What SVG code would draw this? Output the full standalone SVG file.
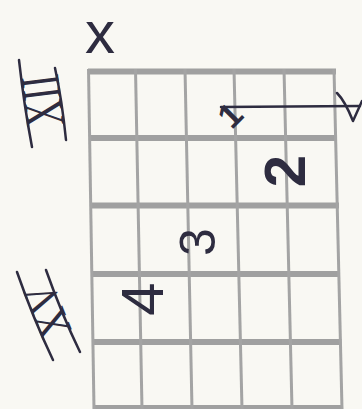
<svg xmlns="http://www.w3.org/2000/svg" width="362" height="409" viewBox="0 0 362 409">
<style>
.bg{fill:#f9f8f3}
.fret{stroke:#a0a0a0;stroke-width:6;stroke-linecap:butt}
.str{stroke:#a4a4a4;stroke-width:3}
.ink{fill:#2e2c40;font-family:"Liberation Sans",Arial,sans-serif}
.rom{fill:#2e2c40;font-family:"Liberation Serif","Times New Roman",serif}
.pen{fill:none;stroke:#2e2c40;stroke-width:2.5;stroke-linecap:round;stroke-linejoin:round}
</style>
<rect class="bg" x="0" y="0" width="362" height="409"/>
<g id="grid">
<line class="fret" x1="88" y1="71.5" x2="336" y2="71.5"/>
<line class="fret" x1="89" y1="138" x2="337" y2="138"/>
<line class="fret" x1="90" y1="205.5" x2="339" y2="205.5"/>
<line class="fret" x1="91.5" y1="274" x2="340" y2="274"/>
<line class="fret" x1="93" y1="342" x2="341.5" y2="342"/>
<line class="fret" x1="94" y1="408" x2="343" y2="408"/>
<line class="str" x1="88.5" y1="69" x2="94" y2="409"/>
<line class="str" x1="135.5" y1="69" x2="142" y2="409"/>
<line class="str" x1="185" y1="69" x2="192" y2="409"/>
<line class="str" x1="234" y1="69" x2="242" y2="409"/>
<line class="str" x1="284" y1="69" x2="292" y2="409"/>
<line class="str" x1="334" y1="69" x2="342" y2="409"/>
</g>
<g id="connectors">
<path class="pen" d="M221,107 L360,106"/>
<path class="pen" d="M337,93 Q345,101 353,121 L362,101"/>
</g>
<g id="mute">
<text class="ink" x="100" y="53" font-size="60" text-anchor="middle">x</text>
</g>
<g id="fret12">
<path class="pen" d="M19,60 Q24,105 32,147"/>
<path class="pen" d="M55,68 Q62,100 66,140"/>
<text class="rom" transform="translate(42,101) rotate(-97)" x="0" y="0" font-size="56" text-anchor="middle" dominant-baseline="central" textLength="52" lengthAdjust="spacingAndGlyphs">XII</text>
</g>
<g id="fret15">
<path class="pen" d="M17,272 Q33,318 53,360"/>
<path class="pen" d="M46,270 Q62,315 80,352"/>
<text class="rom" transform="translate(47,311) rotate(-112)" x="0" y="0" font-size="47" text-anchor="middle" dominant-baseline="central" textLength="54" lengthAdjust="spacingAndGlyphs">XV</text>
</g>
<g id="finger1">
<text class="ink" transform="translate(230,115) rotate(-45)" x="0" y="0" font-size="34" font-weight="bold" text-anchor="middle" dominant-baseline="central">1</text>
</g>
<g id="finger2">
<text class="ink" transform="translate(284,171) rotate(-90)" x="0" y="0" font-size="58" font-weight="bold" text-anchor="middle" dominant-baseline="central">2</text>
</g>
<g id="finger3">
<text class="ink" transform="translate(198,242) rotate(-90)" x="0" y="0" font-size="50" text-anchor="middle" dominant-baseline="central">3</text>
</g>
<g id="finger4">
<text class="ink" transform="translate(142,299) rotate(-90)" x="0" y="0" font-size="60" text-anchor="middle" dominant-baseline="central">4</text>
</g>
</svg>
